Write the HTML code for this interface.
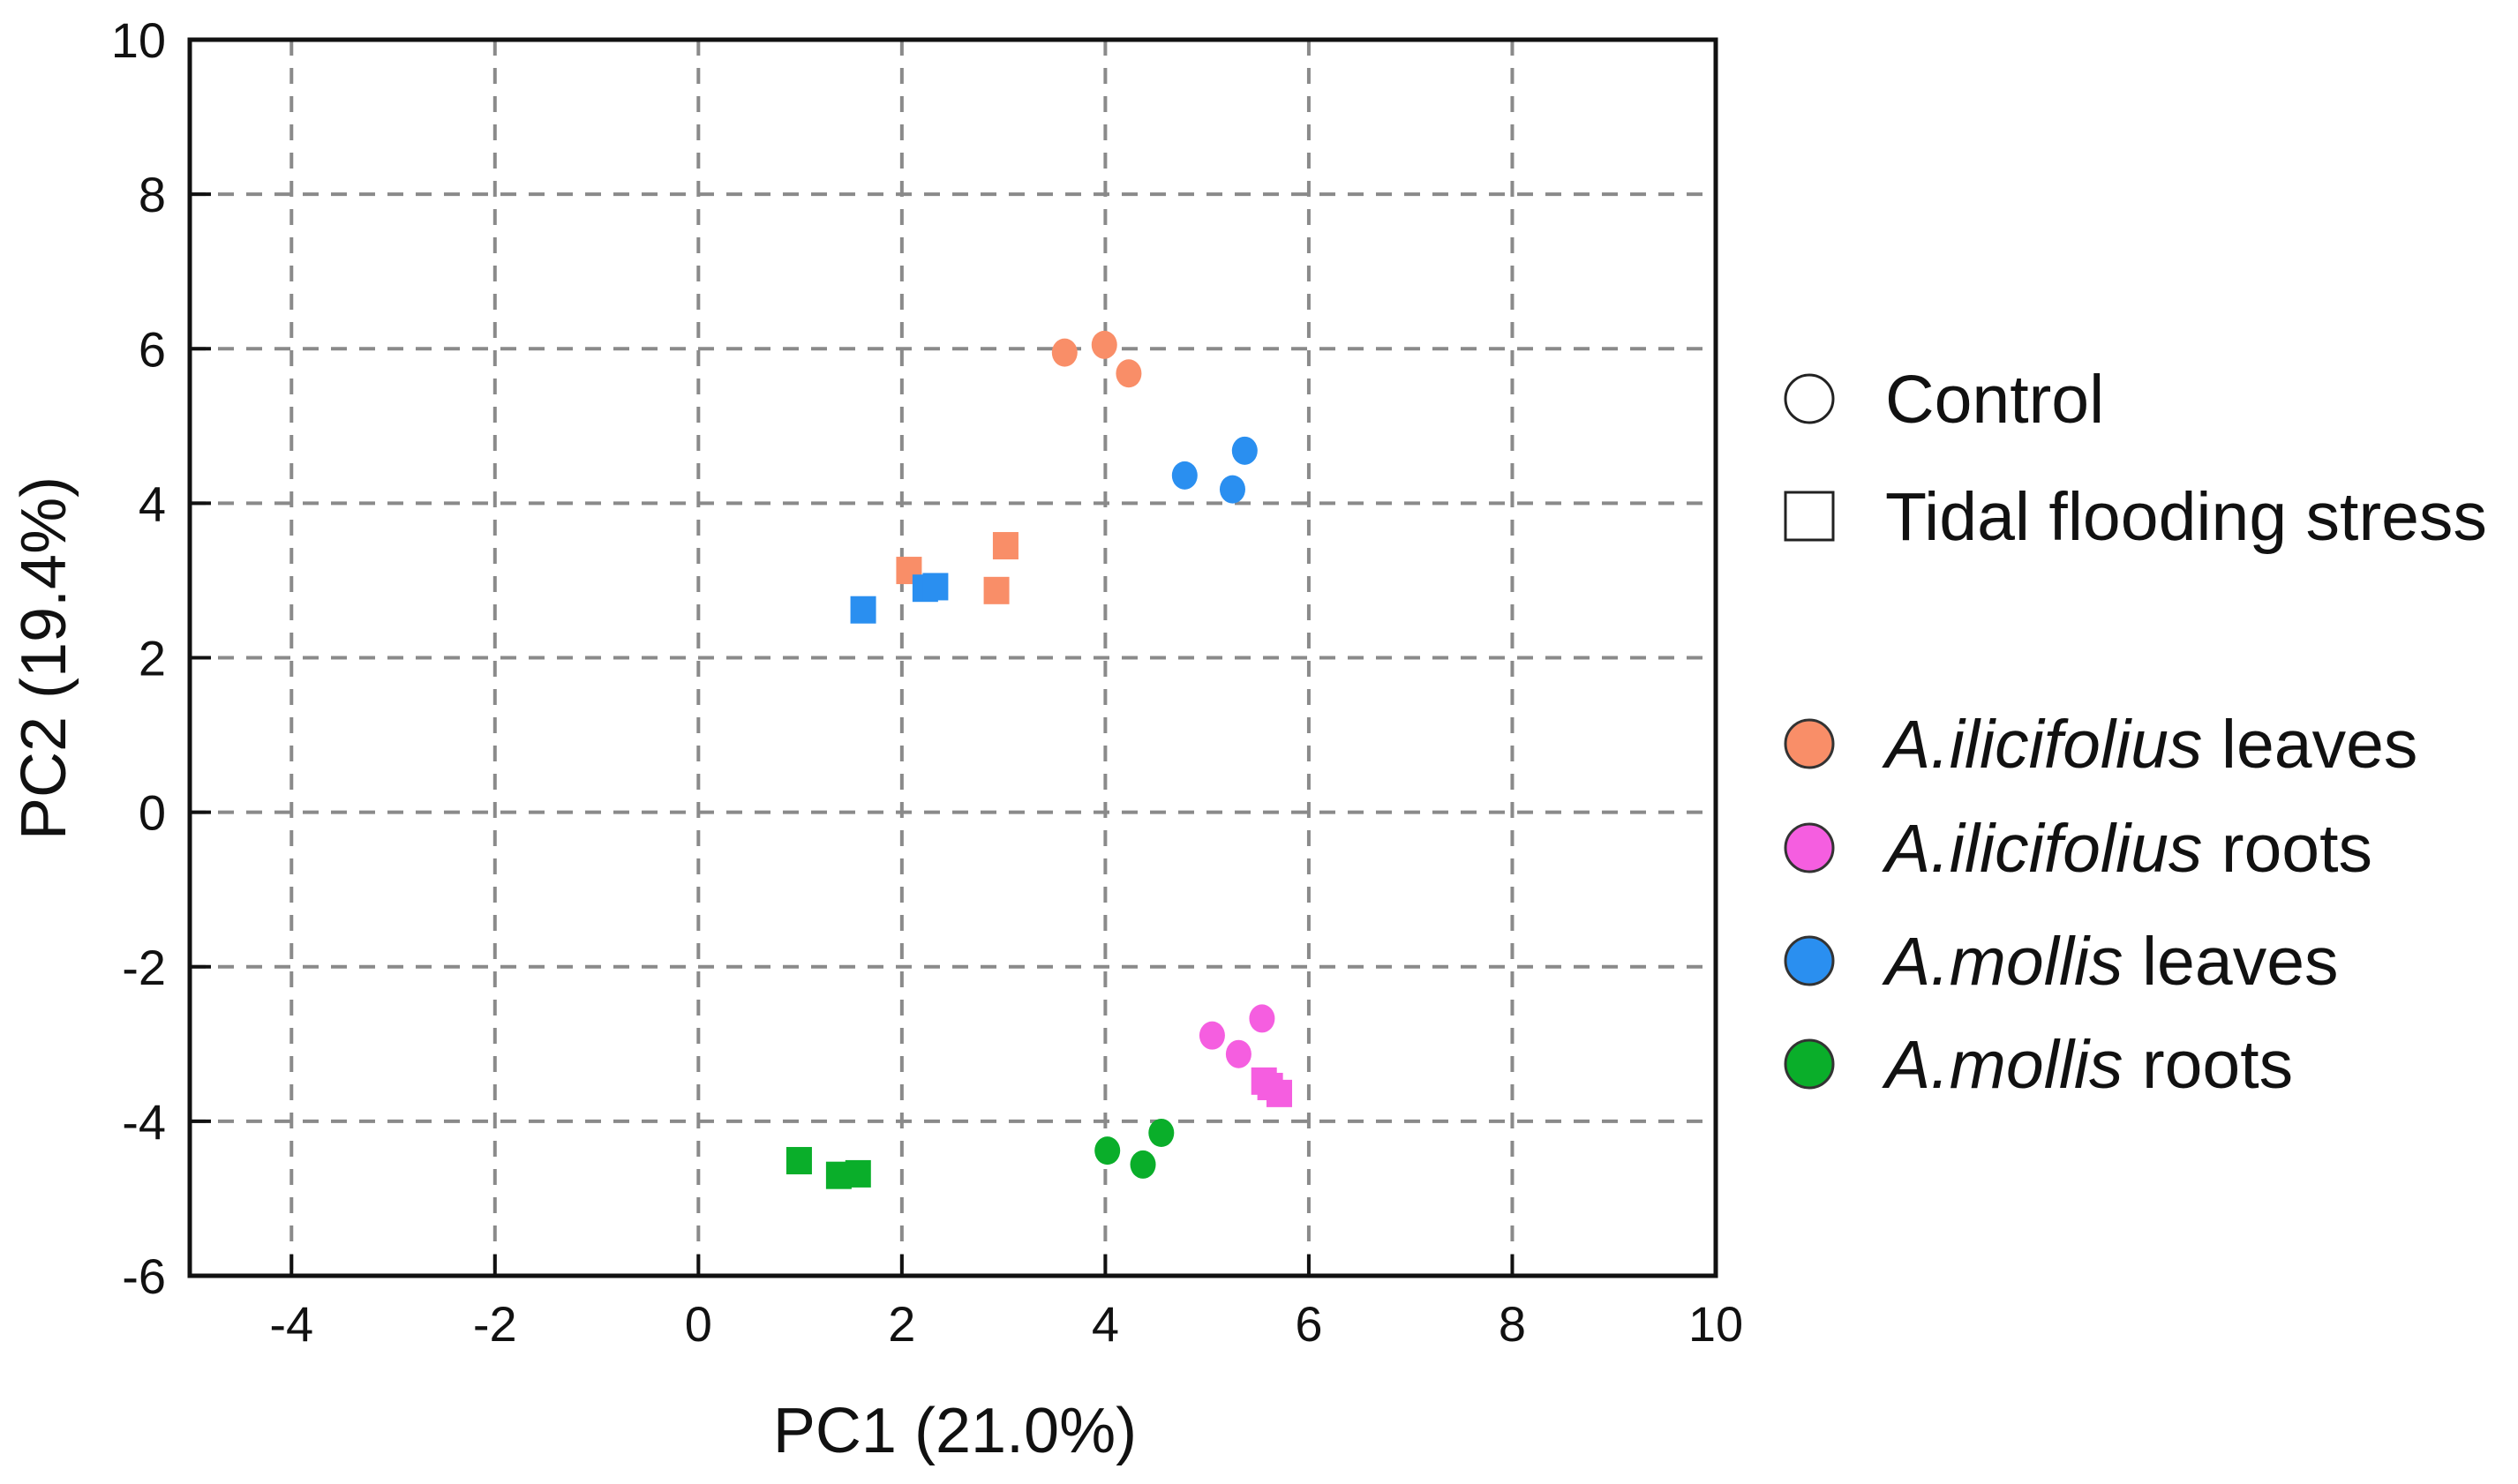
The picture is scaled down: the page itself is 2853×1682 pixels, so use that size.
<!DOCTYPE html>
<html><head><meta charset="utf-8"><style>html,body{margin:0;padding:0;background:#fff}svg{display:block}</style></head>
<body>
<svg id="chart" width="2853" height="1682" viewBox="0 0 2853 1682" xmlns="http://www.w3.org/2000/svg" font-family="Liberation Sans, Arial, sans-serif">
<g id="grid"></g>
<g id="marks"></g>
<g id="axes"></g>
<text x="1082" y="1646" font-size="72" text-anchor="middle" fill="#111">PC1 (21.0%)</text>
<text transform="translate(74,746) rotate(-90)" font-size="72" text-anchor="middle" fill="#111">PC2 (19.4%)</text>
<g font-size="77" fill="#111">
  <g>
    <circle cx="2050" cy="452" r="27" fill="#fff" stroke="#222" stroke-width="3"/>
    <text x="2136" y="479">Control</text></g>
  <g>
    <rect x="2023" y="558" width="54" height="54" fill="#fff" stroke="#222" stroke-width="3"/>
    <text x="2136" y="612">Tidal flooding stress</text></g>
  <g>
    <circle cx="2050" cy="843" r="27" fill="#f98e68" stroke="#333" stroke-width="3"/>
    <text x="2136" y="870"><tspan font-style="italic">A.ilicifolius</tspan> leaves</text></g>
  <g>
    <circle cx="2050" cy="961" r="27" fill="#f55ee0" stroke="#333" stroke-width="3"/>
    <text x="2136" y="988"><tspan font-style="italic">A.ilicifolius</tspan> roots</text></g>
  <g>
    <circle cx="2050" cy="1089" r="27" fill="#2a8ff0" stroke="#333" stroke-width="3"/>
    <text x="2136" y="1116"><tspan font-style="italic">A.mollis</tspan> leaves</text></g>
  <g>
    <circle cx="2050" cy="1206" r="27" fill="#0aae2a" stroke="#333" stroke-width="3"/>
    <text x="2136" y="1233"><tspan font-style="italic">A.mollis</tspan> roots</text></g>
</g>
</svg>
<script>
const xTicks = [-4,-2,0,2,4,6,8,10];
const yTicks = [-6,-4,-2,0,2,4,6,8,10];
const groups = ['ail-leaves','ail-roots','am-leaves','am-roots'];
const groupColors = ['#f98e68','#f55ee0','#2a8ff0','#0aae2a'];
const ailLeavesControlX = [3.60,3.99,4.23];
const ailLeavesControlY = [5.95,6.05,5.68];
const ailLeavesStressX = [2.07,3.02,2.93];
const ailLeavesStressY = [3.13,3.45,2.87];
const amLeavesControlX = [4.78,5.37,5.25];
const amLeavesControlY = [4.36,4.68,4.18];
const amLeavesStressX = [1.62,2.23,2.33];
const amLeavesStressY = [2.62,2.90,2.92];
const ailRootsControlX = [5.05,5.54,5.31];
const ailRootsControlY = [-2.89,-2.67,-3.13];
const ailRootsStressX = [5.56,5.62,5.71];
const ailRootsStressY = [-3.48,-3.55,-3.64];
const amRootsControlX = [4.02,4.37,4.55];
const amRootsControlY = [-4.38,-4.56,-4.15];
const amRootsStressX = [0.99,1.38,1.57];
const amRootsStressY = [-4.51,-4.70,-4.68];

const NS='http://www.w3.org/2000/svg';
const L=215,R=1944,T=45,B=1446,xMin=-5,xMax=10,yMin=-6,yMax=10;
const sx=v=>L+(v-xMin)/(xMax-xMin)*(R-L);
const sy=v=>B-(v-yMin)/(yMax-yMin)*(B-T);
function mk(tag,attrs,parent){const e=document.createElementNS(NS,tag);for(const k in attrs)e.setAttribute(k,attrs[k]);parent.appendChild(e);return e;}
const grid=document.getElementById('grid'),axes=document.getElementById('axes'),marks=document.getElementById('marks');
xTicks.forEach(t=>{
  if(t>xMin&&t<xMax){const g=mk('line',{x1:sx(t),x2:sx(t),y1:T,y2:B,stroke:'#8a8a8a','stroke-width':4,'stroke-dasharray':'18 14'},grid);
  
  }
  const tk=mk('line',{x1:sx(t),x2:sx(t),y1:B,y2:B-24,stroke:'#111','stroke-width':4},axes);
  
  
  const lb=mk('text',{x:sx(t),y:B+74,'font-size':56,'text-anchor':'middle',fill:'#111'},axes);lb.textContent=t;
  
  
});
yTicks.forEach(t=>{
  if(t>yMin&&t<yMax){const g=mk('line',{x1:L,x2:R,y1:sy(t),y2:sy(t),stroke:'#8a8a8a','stroke-width':4,'stroke-dasharray':'18 14'},grid);
  
  }
  const tk=mk('line',{x1:L,x2:L+24,y1:sy(t),y2:sy(t),stroke:'#111','stroke-width':4},axes);
  
  
  const lb=mk('text',{x:188,y:sy(t)+20,'font-size':56,'text-anchor':'end',fill:'#111'},axes);lb.textContent=t;
  
  
});
const frame=mk('rect',{x:L,y:T,width:R-L,height:B-T,fill:'none',stroke:'#111','stroke-width':5},axes);


function circles(xs,ys,c){xs.forEach((x,i)=>{const e=mk('ellipse',{cx:sx(x),cy:sy(ys[i]),rx:14.5,ry:16,fill:c},marks);
  
  });}
function squares(xs,ys,c){xs.forEach((x,i)=>{const e=mk('rect',{x:sx(x)-14.5,y:sy(ys[i])-15.5,width:29,height:31,fill:c},marks);
  
  });}
circles(ailLeavesControlX,ailLeavesControlY,groupColors[0]);
squares(ailLeavesStressX,ailLeavesStressY,groupColors[0]);
circles(ailRootsControlX,ailRootsControlY,groupColors[1]);
squares(ailRootsStressX,ailRootsStressY,groupColors[1]);
circles(amLeavesControlX,amLeavesControlY,groupColors[2]);
squares(amLeavesStressX,amLeavesStressY,groupColors[2]);
circles(amRootsControlX,amRootsControlY,groupColors[3]);
squares(amRootsStressX,amRootsStressY,groupColors[3]);
</script>
</body></html>
